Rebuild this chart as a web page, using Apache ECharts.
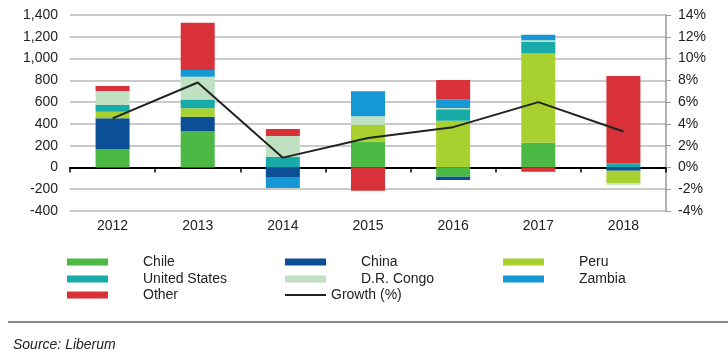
<!DOCTYPE html>
<html><head><meta charset="utf-8">
<script src="https://cdn.jsdelivr.net/npm/echarts@6/dist/echarts.min.js"></script>
<style>html,body{margin:0;padding:0;background:#fff}#c{width:728px;height:359px}</style>
</head><body><div id="c"></div>
<script>
const years = ['2012','2013','2014','2015','2016','2017','2018'];
const chile = [167, 335, 0, 237, -85, 227, 0];
const china = [284, 131, -88, 0, -30, 0, -30];
const peru = [61, 77, 0, 153, 429, 820, -116];
const unitedStates = [61, 82, 99, 0, 105, 107, 37];
const drCongo = [128, 208, 190, 80, 12, 15, -12];
const zambia = [0, 61, -101, 229, 80, 50, 0];
const other = [46, 434, 64, -215, 177, -40, 802];
const growth = [4.5, 7.8, 0.9, 2.7, 3.7, 6.0, 3.3];
const leftTicks = {min: -400, max: 1400, interval: 200};
const rightTicks = {min: -4, max: 14, interval: 2};

const colors = {
  'Chile': '#4cb944', 'China': '#0b4f97', 'Peru': '#a8d02f',
  'United States': '#17aaa8', 'D.R. Congo': '#bfe1c1', 'Zambia': '#1598d3', 'Other': '#d8313a'
};
const seriesData = [
  ['Chile', chile], ['China', china], ['Peru', peru], ['United States', unitedStates],
  ['D.R. Congo', drCongo], ['Zambia', zambia], ['Other', other]
];
const font = 'Liberation Sans, Arial, sans-serif';
const series = seriesData.map(([n, d]) => ({
  name: n, type: 'bar', stack: 'total', barWidth: 34, data: d,
  itemStyle: {color: colors[n]}, xAxisIndex: 0, yAxisIndex: 0
}));
series.push({
  name: 'Growth (%)', type: 'line', data: growth, yAxisIndex: 1, xAxisIndex: 0,
  symbol: 'none', lineStyle: {color: '#222', width: 2}, itemStyle: {color: '#222'}, z: 5
});

// legend layout: [name, iconLeft, rowCenter]
const legendPos = [
  ['Chile', 67, 263], ['China', 285, 263], ['Peru', 503, 263],
  ['United States', 67, 280], ['D.R. Congo', 285, 280], ['Zambia', 503, 280],
  ['Other', 67, 296], ['Growth (%)', 285, 296]
];
const legends = legendPos.map(([n, x, y]) => {
  const isLine = n === 'Growth (%)';
  return {
    data: [n], left: x, top: y - 8, padding: 0,
    itemWidth: 41, itemHeight: isLine ? 2 : 7,
    icon: 'rect',
    selectedMode: false,
    textStyle: {fontFamily: font, fontSize: 14, color: '#222',
      padding: isLine ? [0, 0, 0, 0] : [0, 0, 0, 30]}
  };
});

const chart = echarts.init(document.getElementById('c'));
chart.setOption({
  animation: false,
  grid: {left: 70, right: 62, top: 15, bottom: 148},
  legend: legends,
  title: {text: 'Source: Liberum', left: 8, top: 333,
    textStyle: {fontFamily: font, fontSize: 14, fontStyle: 'italic', fontWeight: 'normal', color: '#222'}},
  graphic: [{type: 'line', shape: {x1: 8, y1: 322, x2: 728, y2: 322},
    style: {stroke: '#888', lineWidth: 2}}],
  xAxis: [
    {type: 'category', data: years, position: 'bottom',
     axisLine: {onZero: true, lineStyle: {color: '#000', width: 2}},
     axisTick: {show: true, length: 5, lineStyle: {color: '#000', width: 1.5}},
     axisLabel: {show: false}, splitLine: {show: false}},
    {type: 'category', data: years, position: 'bottom',
     axisLine: {show: false, onZero: false}, axisTick: {show: false},
     axisLabel: {fontFamily: font, fontSize: 14, color: '#222', margin: 8}}
  ],
  yAxis: [
    {type: 'value', min: leftTicks.min, max: leftTicks.max, interval: leftTicks.interval,
     axisLine: {show: false}, axisTick: {show: false},
     axisLabel: {fontFamily: font, fontSize: 14, color: '#222', margin: 12,
       formatter: v => v.toLocaleString('en-US')},
     splitLine: {lineStyle: {color: '#b8b8b8', width: 1.5}}},
    {type: 'value', min: rightTicks.min, max: rightTicks.max, interval: rightTicks.interval,
     position: 'right',
     axisLine: {show: true, lineStyle: {color: '#999', width: 1.5}},
     axisTick: {show: true, length: 5, lineStyle: {color: '#999'}},
     axisLabel: {fontFamily: font, fontSize: 14, color: '#222', margin: 12, formatter: '{value}%'},
     splitLine: {show: false}}
  ],
  series: series
});
</script></body></html>
